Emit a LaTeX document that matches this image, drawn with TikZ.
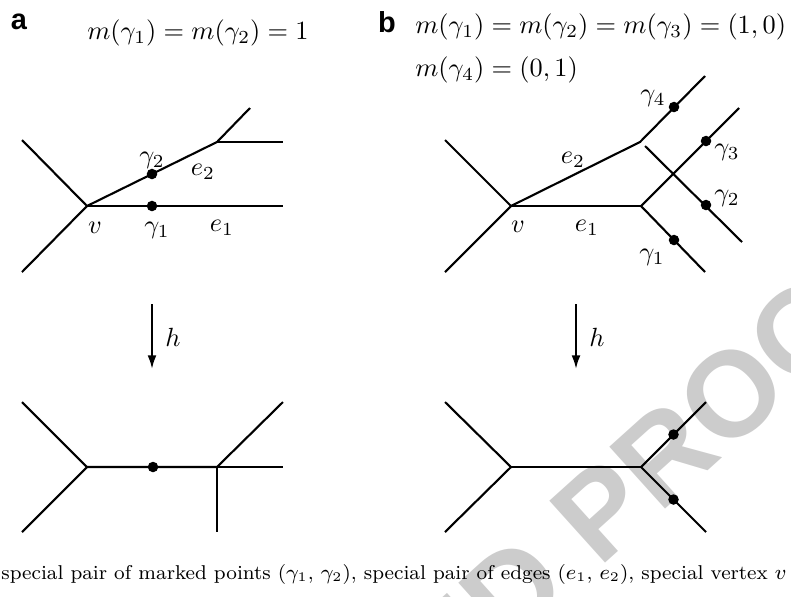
\documentclass[tikz,border=0pt]{standalone}
\usepackage{fontspec}
\newfontfamily\markfont{Liberation Sans}
\usetikzlibrary{arrows.meta,calc}
\definecolor{proofGray}{HTML}{CCCCCC}

\begin{document}
\begin{tikzpicture}[x=0.38pt, y=-0.38pt,
  edge/.style={line width=0.8pt},
  dot/.style={circle, fill=black, inner sep=0pt, minimum size=4pt},
  map/.style={line width=0.8pt, -{Latex[length=5.2pt,width=3.4pt]}},
  panel/.style={font=\markfont\bfseries\fontsize{11}{13}\selectfont},
  proofmark/.style={text=proofGray, font=\markfont\bfseries\fontsize{46}{46}\selectfont,
               rotate=42, inner sep=0pt}]

  \useasboundingbox (0,0) rectangle (791,596);

  % watermark
  \begin{scope}
    \clip (0,0) rectangle (791,596);
    \node[proofmark, anchor=base west] (proof) at (599,569) {PROOF};
    \node[proofmark, anchor=base east] (uncorr)
      at ($(proof.base west)!-12.8pt!(proof.base east)$) {UNCORRECTED};
  \end{scope}

  % panel a, before
  \node[panel] (pa) at (19,22) {a};
  \node (fa) at (198,33) {$m(\gamma_1)=m(\gamma_2)=1$};
  \coordinate (av) at (87,206);
  \coordinate (aw) at (217,142);
  \coordinate (aul) at (22,140);
  \coordinate (all) at (22,272);
  \coordinate (ae1) at (283,206);
  \coordinate (aur) at (250,108);
  \coordinate (ar) at (283,142);
  \draw[edge] (aul) -- (av) -- (all);
  \draw[edge] (av) -- (ae1);
  \draw[edge] (av) -- (aw) -- (aur);
  \draw[edge] (aw) -- (ar);
  \node[dot] (ag2) at ($(av)!0.5!(aw)$) {};
  \node[dot] (ag1) at (152,206) {};
  \node (lag2) at (152,160) {$\gamma_2$};
  \node (lae2) at (203,172) {$e_2$};
  \node (lav) at (95,228) {$v$};
  \node (lag1) at (157,230) {$\gamma_1$};
  \node (lae1) at (222,228) {$e_1$};

  % panel b, before
  \node[panel] (pb) at (387,22) {b};
  \node[anchor=west] (fb1) at (406,27) {$m(\gamma_1)=m(\gamma_2)=m(\gamma_3)=(1,0)$};
  \node[anchor=west] (fb2) at (406,70) {$m(\gamma_4)=(0,1)$};
  \coordinate (bv) at (511,206);
  \coordinate (bul) at (445,140);
  \coordinate (bll) at (445,272);
  \coordinate (bw1) at (641,206);
  \coordinate (bw1d) at (705,272);
  \coordinate (bw1u) at (739,108);
  \coordinate (bw2) at (640,142);
  \coordinate (bw2u) at (705,76);
  \coordinate (bs) at (645,146);
  \coordinate (bse) at (742,242);
  \draw[edge] (bul) -- (bv) -- (bll);
  \draw[edge] (bv) -- (bw1);
  \draw[edge] (bw1d) -- (bw1) -- (bw1u);
  \draw[edge] (bv) -- (bw2) -- (bw2u);
  \draw[edge] (bs) -- (bse);
  \node[dot] (bg4) at (674,107) {};
  \node[dot] (bg3) at (706,141) {};
  \node[dot] (bg2) at (706,205) {};
  \node[dot] (bg1) at (674,240) {};
  \node (lbg4) at (653,98) {$\gamma_4$};
  \node (lbg3) at (727,152) {$\gamma_3$};
  \node (lbg2) at (727,198) {$\gamma_2$};
  \node (lbg1) at (652,257) {$\gamma_1$};
  \node (lbe2) at (573,160) {$e_2$};
  \node (lbv) at (518,227) {$v$};
  \node (lbe1) at (587,228) {$e_1$};

  % the maps h
  \coordinate (ht1) at (152,304);
  \coordinate (hb1) at (152,369);
  \coordinate (ht2) at (576,304);
  \coordinate (hb2) at (576,369);
  \draw[map] (ht1) -- (hb1);
  \draw[map] (ht2) -- (hb2);
  \node (lh1) at (173,337) {$h$};
  \node (lh2) at (597,337) {$h$};

  % panel a, after
  \coordinate (cv) at (87,467);
  \coordinate (cul) at (22,402);
  \coordinate (cll) at (22,532);
  \coordinate (cw) at (217,467);
  \coordinate (cur) at (283,402);
  \coordinate (cr) at (283,467);
  \coordinate (cd) at (217,532);
  \draw[edge] (cul) -- (cv) -- (cll);
  \draw[edge] (cv) -- (cw) -- (cur);
  \draw[edge] (cw) -- (cr);
  \draw[edge] (cw) -- (cd);
  \node[dot] (cg) at (153,467) {};

  % panel b, after
  \coordinate (dv) at (511,467);
  \coordinate (dul) at (445,402);
  \coordinate (dll) at (445,532);
  \coordinate (dw) at (641,467);
  \coordinate (dur) at (706,402);
  \coordinate (dlr) at (706,532);
  \draw[edge] (dul) -- (dv) -- (dll);
  \draw[edge] (dv) -- (dw);
  \draw[edge] (dur) -- (dw) -- (dlr);
  \node[dot] (dg1) at ($(dw)!0.5!(dur)$) {};
  \node[dot] (dg2) at ($(dw)!0.5!(dlr)$) {};

  % caption
  \node[font=\fontsize{7.6}{9}\selectfont] (cap) at (394,574)
    {special pair of marked points ($\gamma_1$, $\gamma_2$), special pair of edges ($e_1$, $e_2$), special vertex $v$};
\end{tikzpicture}
\end{document}
